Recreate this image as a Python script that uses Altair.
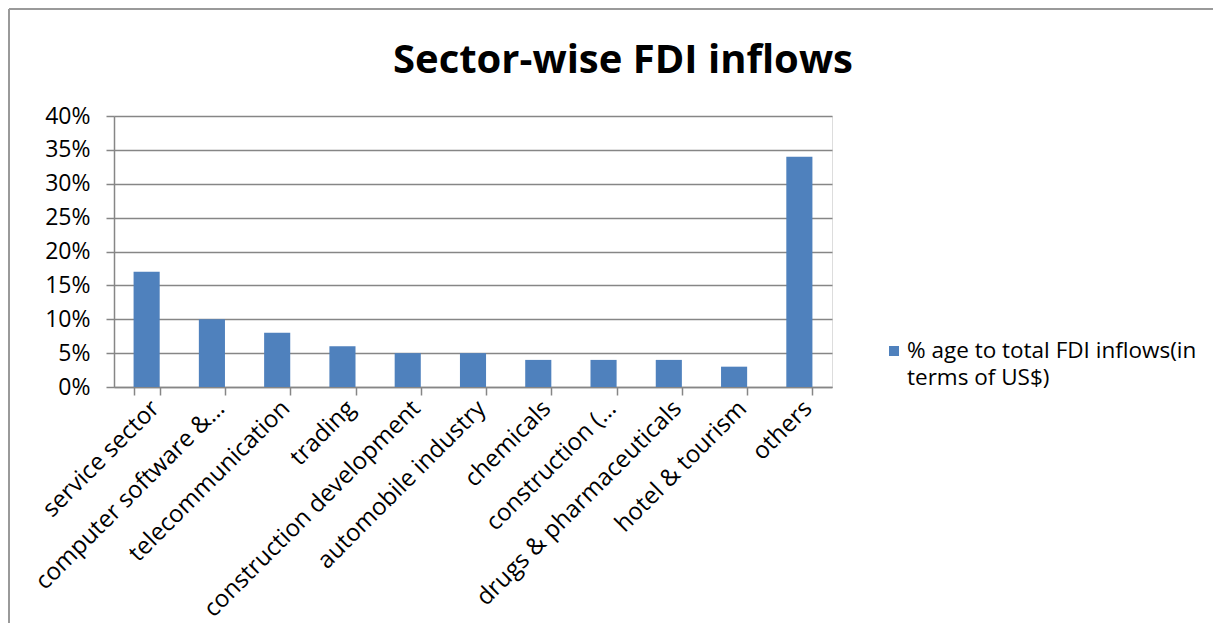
import altair as alt
import pandas as pd

sectors = ["service sector", "computer software &…", "telecommunication", "trading",
           "construction development", "automobile industry", "chemicals",
           "construction (…", "drugs & pharmaceuticals", "hotel & tourism", "others"]
shares = [0.17, 0.10, 0.08, 0.06, 0.05, 0.05, 0.04, 0.04, 0.04, 0.03, 0.34]
series_name = "% age to total FDI inflows(in terms of US$)"
legend_lines = ["% age to total FDI inflows(in", "terms of US$)"]
title_text = "Sector-wise FDI inflows"

df = pd.DataFrame({"sector": sectors, "share": shares, "series": series_name})
one = df.head(1)

FONT = "Open Sans"
BLUE = "#4F81BD"
W, H = 718, 271
PAD_L, PAD_T = 106, 108
TOTAL_W, TOTAL_H = 1205, 615

bars = alt.Chart(df).mark_bar().encode(
    x=alt.X("sector:N", sort=sectors, title=None,
            scale=alt.Scale(paddingInner=0.6, paddingOuter=0.3),
            axis=alt.Axis(labelAngle=-45, labelFontSize=24, labelFont=FONT, labelColor="#000",
                          labelLimit=400, domainColor="#868686", domainWidth=1.5,
                          tickColor="#868686", tickWidth=1.5, tickSize=8, tickBand="extent",
                          labelPadding=1, grid=False)),
    y=alt.Y("share:Q", title=None,
            scale=alt.Scale(domain=[0, 0.4], nice=False),
            axis=alt.Axis(format=".0%", values=[0, .05, .1, .15, .2, .25, .3, .35, .4],
                          labelFontSize=23, labelFont=FONT, labelColor="#000",
                          domainColor="#868686", domainWidth=1.5,
                          tickColor="#868686", tickWidth=1.5, tickSize=8, labelPadding=16,
                          grid=True, gridColor="#868686", gridWidth=1.5)),
    color=alt.Color("series:N", scale=alt.Scale(range=[BLUE]), legend=None),
)

# hand-placed legend (symbol + two-line label)
legend_symbol = alt.Chart(one).mark_square(size=100, opacity=1).encode(
    x=alt.value(780), y=alt.value(235),
    color=alt.Color("series:N", scale=alt.Scale(range=[BLUE]), legend=None))
legend_label = alt.Chart(one).mark_text(
    text=legend_lines, font=FONT, fontSize=22.5, color="#000", align="left",
    baseline="alphabetic", lineHeight=27).encode(x=alt.value(793), y=alt.value(242))

title = alt.Chart(one).mark_text(
    text=title_text, font=FONT, fontSize=40, fontWeight="bold", color="#000",
    align="center", baseline="alphabetic").encode(x=alt.value(509), y=alt.value(-43))

frame_left = alt.Chart(one).mark_rule(color="#9a9a9a", strokeWidth=2).encode(
    x=alt.value(-PAD_L + 1), y=alt.value(-PAD_T + 1), y2=alt.value(TOTAL_H - PAD_T))
frame_top = alt.Chart(one).mark_rule(color="#9a9a9a", strokeWidth=2).encode(
    x=alt.value(-PAD_L + 1), x2=alt.value(TOTAL_W - PAD_L), y=alt.value(-PAD_T + 1))

chart = alt.layer(bars, legend_symbol, legend_label, title, frame_left, frame_top).properties(
    width=W, height=H,
    autosize=alt.AutoSizeParams(type="none"),
    padding={"left": PAD_L, "top": PAD_T, "right": TOTAL_W - PAD_L - W, "bottom": TOTAL_H - PAD_T - H},
).configure_view(stroke=None).configure(background="white")

chart.save("out.html", embed_options={"renderer": "svg", "actions": False})
